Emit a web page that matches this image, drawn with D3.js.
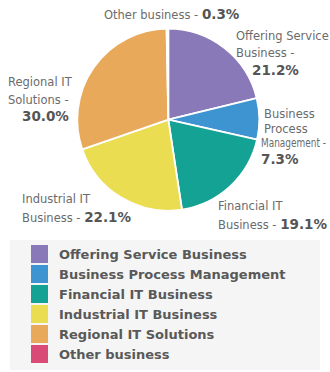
<!DOCTYPE html>
<html>
<head>
<meta charset="utf-8">
<script src="https://cdn.jsdelivr.net/npm/d3@7"></script>
<style>
  html, body { margin: 0; padding: 0; background: #ffffff; }
  svg { display: block; }
</style>
</head>
<body>
<svg id="chart" width="330" height="372"></svg>
<script>
// Segment data
const categories = [
  "Offering Service Business",
  "Business Process Management",
  "Financial IT Business",
  "Industrial IT Business",
  "Regional IT Solutions",
  "Other business"
];
const shares = [21.2, 7.3, 19.1, 22.1, 30.0, 0.3];
const labelLines = [
  ["Offering Service", "Business -"],
  ["Business", "Process", "Management -"],
  ["Financial IT", "Business - "],
  ["Industrial IT", "Business - "],
  ["Regional IT", "Solutions -"],
  ["Other business - "]
];

// Palette: edge colour and lighter centre colour for each segment
const edgeColors   = ["#8a79b9", "#3e93d1", "#13a293", "#ebdd52", "#e8a95b", "#d94a77"];
const centerColors = ["#aea0cd", "#70b5e3", "#4abcb0", "#f2e77a", "#f2c983", "#e37a9b"];

const svg = d3.select("#chart");
const cx = 168.3, cy = 119.7, radius = 91;

const defs = svg.append("defs");
categories.forEach((c, i) => {
  const g = defs.append("radialGradient")
    .attr("id", "grad" + i)
    .attr("gradientUnits", "userSpaceOnUse")
    .attr("cx", cx).attr("cy", cy).attr("r", radius);
  g.append("stop").attr("offset", "0%").attr("stop-color", centerColors[i]);
  g.append("stop").attr("offset", "100%").attr("stop-color", edgeColors[i]);
});

const pie = d3.pie().sort(null).value(d => d)
  .startAngle(0).endAngle(2 * Math.PI);
const arcs = pie(shares);
const arc = d3.arc().innerRadius(0).outerRadius(radius);

svg.append("g")
  .attr("transform", `translate(${cx},${cy})`)
  .selectAll("path")
  .data(arcs)
  .join("path")
  .attr("d", arc)
  .attr("fill", (d, i) => `url(#grad${i})`)
  .attr("stroke", "#ffffff")
  .attr("stroke-width", 1.8)
  .attr("stroke-linejoin", "round");

// Label placement for each segment: left x, first baseline, line height,
// and where the bold percentage goes (after the last line, or on its own line)
const labelLayout = [
  { x: 236, y: 40, lh: 17, pct: "line", px: 252, py: 75 },
  { x: 264, y: 118, lh: 14.5, pct: "line", px: 261, py: 164, xs: [264, 264, 261], fit: [null, null, 65] },
  { x: 218, y: 210, lh: 18.5, pct: "inline" },
  { x: 22, y: 203, lh: 18.5, pct: "inline" },
  { x: 8, y: 86, lh: 18, pct: "line", px: 22, py: 121 },
  { x: 104, y: 19, lh: 0, pct: "inline" }
];

const labelFont = "'DejaVu Sans', Verdana, sans-serif";
const labels = svg.append("g").attr("font-family", labelFont);

arcs.forEach((a, i) => {
  const L = labelLayout[i];
  const lines = labelLines[i];
  const pctText = d3.format(".1f")(shares[i]) + "%";
  const t = labels.append("text")
    .attr("font-size", 11.5)
    .attr("fill", "#6b6b6b");
  lines.forEach((ln, k) => {
    const ts = t.append("tspan")
      .attr("x", L.xs ? L.xs[k] : L.x)
      .attr("y", L.y + k * L.lh)
      .text(ln);
    if (L.fit && L.fit[k]) {
      ts.attr("textLength", L.fit[k]).attr("lengthAdjust", "spacingAndGlyphs");
    }
    if (L.pct === "inline" && k === lines.length - 1) {
      t.append("tspan")
        .attr("font-weight", "bold")
        .attr("font-size", 13.5)
        .attr("fill", "#555555")
        .text(pctText);
    }
  });
  if (L.pct === "line") {
    labels.append("text")
      .attr("x", L.px).attr("y", L.py)
      .attr("font-size", 13.5)
      .attr("font-weight", "bold")
      .attr("fill", "#555555")
      .text(pctText);
  }
});

// Legend
const legend = svg.append("g");
legend.append("rect")
  .attr("x", 10).attr("y", 240)
  .attr("width", 310).attr("height", 130)
  .attr("fill", "#f5f5f5");

const rowY = d3.scalePoint()
  .domain(categories)
  .range([245, 345]);

const rows = legend.selectAll("g.row")
  .data(categories)
  .join("g")
  .attr("class", "row")
  .attr("transform", d => `translate(0,${rowY(d)})`);

rows.append("rect")
  .attr("x", 31).attr("y", 0)
  .attr("width", 17).attr("height", 18)
  .attr("fill", (d, i) => edgeColors[i]);

rows.append("text")
  .attr("x", 59).attr("y", 14)
  .attr("font-family", labelFont)
  .attr("font-size", 13)
  .attr("font-weight", "bold")
  .attr("fill", "#595959")
  .text(d => d);
</script>
</body>
</html>
